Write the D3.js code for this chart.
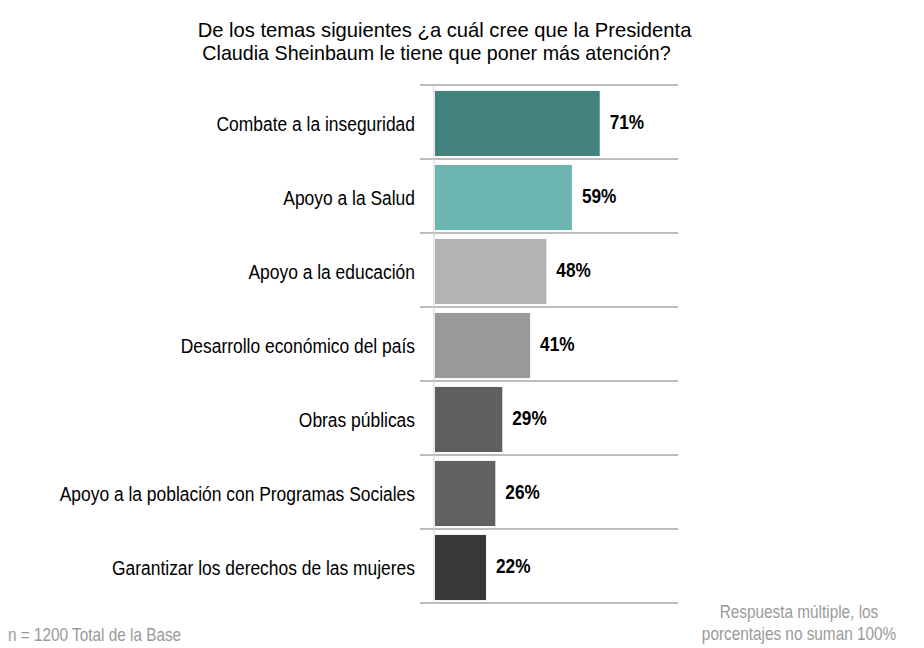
<!DOCTYPE html>
<html><head><meta charset="utf-8">
<script src="https://cdn.jsdelivr.net/npm/d3@7"></script>
<style>body{margin:0;background:#fff}svg{display:block}</style>
</head><body><svg id="c" width="924" height="648"></svg>
<script>
const categories = ["Combate a la inseguridad","Apoyo a la Salud","Apoyo a la educación","Desarrollo económico del país","Obras públicas","Apoyo a la población con Programas Sociales","Garantizar los derechos de las mujeres"];
const values = [71,59,48,41,29,26,22];
const colors = ["#42827F","#6BB5B0","#B3B3B3","#999999","#5F5F5F","#616161","#383838"];
const titleLines = ["De los temas siguientes ¿a cuál cree que la Presidenta","Claudia Sheinbaum le tiene que poner más atención?"];
const noteLeft = "n = 1200 Total de la Base";
const noteRight = ["Respuesta múltiple, los","porcentajes no suman 100%"];

const svg = d3.select("#c");
const font = "'Liberation Sans', Arial, sans-serif";
const NARROW = 0.82;
const x = d3.scaleLinear().domain([0,100]).range([435,667]);
const y = d3.scaleBand().domain(categories).range([85,603]).paddingInner(0.12).paddingOuter(0.06);
const step = y.step();
const barMid = c => y(c) + 1.5 + y.bandwidth()/2;

// title
const titleX = [444.5, 436.5];
const titleSX = [1, 0.975];
svg.append("g").selectAll("text").data(titleLines).join("text")
  .attr("transform",(d,i)=>`translate(${titleX[i]},${37+i*23}) scale(${titleSX[i]},1)`)
  .attr("text-anchor","middle")
  .style("font-family",font).style("font-size","20.2px").attr("fill","#000").text(d=>d);

// gridlines
const lines = d3.range(categories.length+1).map(i=>85+i*step);
svg.append("g").selectAll("line").data(lines).join("line")
  .attr("x1",420).attr("x2",678).attr("y1",d=>d).attr("y2",d=>d)
  .attr("stroke","#A6A6A6").attr("stroke-width",1.5);
// axis
svg.append("line").attr("x1",434).attr("x2",434).attr("y1",85).attr("y2",603)
  .attr("stroke","#D0D0D0").attr("stroke-width",1);

// bars
svg.append("g").selectAll("rect").data(values).join("rect")
  .attr("x",x(0)).attr("y",(d,i)=>y(categories[i])+1.5)
  .attr("width",d=>x(d)-x(0)).attr("height",y.bandwidth())
  .attr("fill",(d,i)=>colors[i]);

// value labels
svg.append("g").selectAll("text").data(values).join("text")
  .attr("transform",(d,i)=>`translate(${x(d)+10},${barMid(categories[i])+5.5}) scale(${NARROW},1)`)
  .style("font-family",font).style("font-weight","bold").style("font-size","21px")
  .attr("fill","#000").text(d=>d+"%");

// category labels
svg.append("g").selectAll("text").data(categories).join("text")
  .attr("transform",d=>`translate(415,${barMid(d)+7.5}) scale(0.83,1)`)
  .attr("text-anchor","end")
  .style("font-family",font).style("font-size","21px").attr("fill","#000").text(d=>d);

// footer
svg.append("text").attr("transform",`translate(8,641) scale(${NARROW},1)`)
  .style("font-family",font).style("font-size","18.7px").attr("fill","#9A9A9A").text(noteLeft);
svg.append("g").selectAll("text").data(noteRight).join("text")
  .attr("transform",(d,i)=>`translate(799,${618+i*22}) scale(${NARROW},1)`)
  .attr("text-anchor","middle")
  .style("font-family",font).style("font-size","18.7px").attr("fill","#9A9A9A").text(d=>d);
</script></body></html>
